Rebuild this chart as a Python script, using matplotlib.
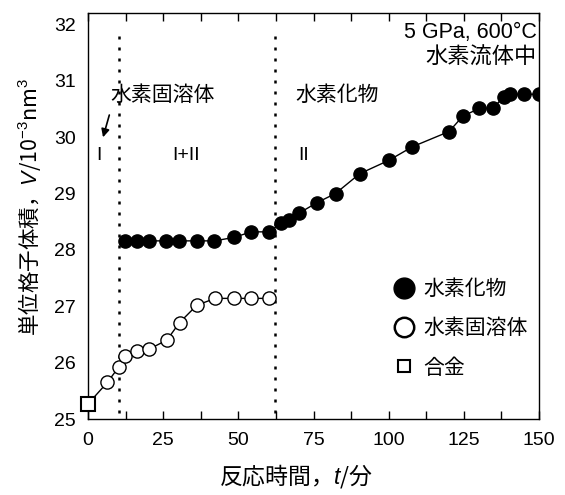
import numpy as np
import matplotlib
matplotlib.use("Agg")
from matplotlib import pyplot as plt
from matplotlib.lines import Line2D

plt.rcParams['font.family'] = ['Liberation Sans', 'Noto Sans CJK JP', 'DejaVu Sans']
plt.rcParams['mathtext.fontset'] = 'custom'
plt.rcParams['mathtext.rm'] = 'Liberation Sans'
plt.rcParams['mathtext.it'] = 'Liberation Sans:italic'

# hydride (filled circles)
t_hyd = [12.1, 16.2, 20.1, 26.0, 30.3, 36.2, 42.0, 48.4, 54.3, 60.3, 64.0, 66.8,
         70.1, 76.2, 82.3, 90.3, 100.1, 107.9, 120.1, 124.6, 130.1, 134.6,
         138.4, 140.4, 145.1, 150.0]
v_hyd = [28.16, 28.16, 28.16, 28.16, 28.16, 28.16, 28.16, 28.22, 28.32, 28.32,
         28.47, 28.53, 28.65, 28.84, 29.00, 29.35, 29.59, 29.83, 30.10, 30.37,
         30.51, 30.51, 30.72, 30.76, 30.76, 30.76]

# solid solution (open circles), starting from the alloy point
t_sol = [0.0, 6.4, 10.3, 12.3, 16.4, 20.3, 26.2, 30.4, 36.2, 42.3, 48.4, 54.3, 60.3]
v_sol = [25.27, 25.65, 25.93, 26.11, 26.21, 26.24, 26.40, 26.71, 27.02, 27.14,
         27.14, 27.14, 27.14]

# alloy (square)
t_alloy = [0.0]
v_alloy = [25.27]

boundaries = [10.2, 62.3]

fig = plt.figure(figsize=(5.65, 4.95), dpi=100)
ax = fig.add_axes([0.156, 0.1535, 0.798, 0.82])

ax.vlines(boundaries, 25.1, 31.8, colors='black', linestyles=(0, (1.2, 3.2)), lw=1.8)

ax.plot(t_sol, v_sol, '-', color='black', lw=1.0, zorder=2)
ax.plot(t_sol[1:], v_sol[1:], 'o', ms=9.5, mfc='white', mec='black', mew=1.0, zorder=3)
ax.plot(t_hyd, v_hyd, '-o', color='black', lw=1.0, ms=9.5, mfc='black', mec='black', zorder=3)
ax.plot(t_alloy, v_alloy, 's', ms=10.5, mfc='white', mec='black', mew=1.5, zorder=4, clip_on=False)

ax.set_xlim(0, 150)
ax.set_ylim(25, 32.2)
ax.set_xticks(np.arange(0, 151, 25))
ax.set_xticks(np.arange(0, 151, 12.5), minor=True)
ax.set_yticks(np.arange(25, 33, 1))
ax.tick_params(axis='x', which='both', direction='in', top=True, bottom=True, length=6,
               width=1.0, labelsize=14, pad=9)
ax.tick_params(axis='y', which='both', length=0, labelsize=14, pad=9)
for s in ax.spines.values():
    s.set_linewidth(1.0)

# plain text in a math string uses the text's own (single) font, so give it the CJK one
ax.set_xlabel('反応時間，$\\mathit{t}$/分', fontsize=16.5, fontfamily='Noto Sans CJK JP')
ax.set_ylabel('単位格子体積，$\\mathit{V}$/10$^{-3}$nm$^{3}$', fontsize=15.5,
              fontfamily='Noto Sans CJK JP')
ax.xaxis.set_label_coords(0.461, -0.106)
ax.yaxis.set_label_coords(-0.1, 0.522)

ax.text(7.3, 30.75, '水素固溶体', fontsize=15, va='center', ha='left')
ax.text(69, 30.75, '水素化物', fontsize=15, va='center', ha='left')
ax.text(3.7, 29.68, 'I', fontsize=14, va='center', ha='center')
ax.text(32.7, 29.68, 'I+II', fontsize=14, va='center', ha='center')
ax.text(71.7, 29.68, 'II', fontsize=14, va='center', ha='center')
ax.text(149.3, 31.86, '5 GPa, 600°C', fontsize=15.5, va='center', ha='right')
ax.text(149.3, 31.4, '水素流体中', fontsize=16, va='center', ha='right')
ax.annotate('', xy=(4.7, 29.95), xytext=(7.3, 30.44),
            arrowprops=dict(arrowstyle='-|>', color='black', lw=1.2, mutation_scale=12))

handles = [
    Line2D([], [], marker='o', ls='none', ms=15, mfc='black', mec='black'),
    Line2D([], [], marker='o', ls='none', ms=14, mfc='white', mec='black', mew=1.8),
    Line2D([], [], marker='s', ls='none', ms=9, mfc='white', mec='black', mew=1.5),
]
labels = ['水素化物', '水素固溶体', '合金']
ax.legend(handles, labels, loc='upper left', bbox_to_anchor=(0.66, 0.365), frameon=False,
          fontsize=15, handlelength=1.0, handletextpad=0.4, labelspacing=0.95,
          borderaxespad=0)

fig.savefig('out.png', dpi=100)
